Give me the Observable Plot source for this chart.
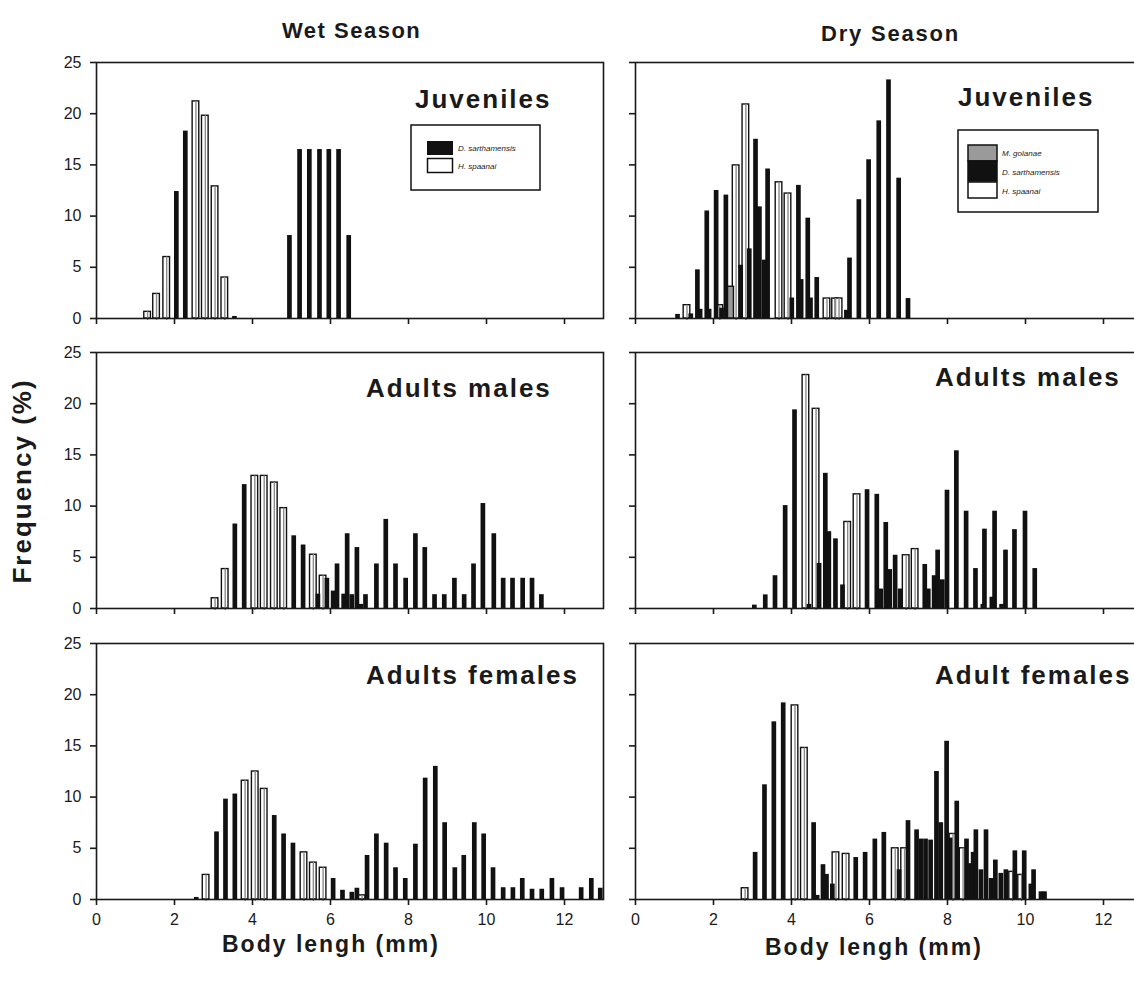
<!DOCTYPE html>
<html>
<head>
<meta charset="utf-8">
<script src="https://cdn.jsdelivr.net/npm/d3@7"></script>
<script src="https://cdn.jsdelivr.net/npm/@observablehq/plot@0.6"></script>
<style>
  html, body { margin: 0; padding: 0; background: #fff; overflow: hidden; }
  #root { position: relative; width: 1134px; height: 986px; overflow: hidden; }
  .panel { position: absolute; }
  .panel [aria-label="x-axis tick"], .panel [aria-label="y-axis tick"] { stroke-width: 1.6px; }
  #overlay { position: absolute; left: 0; top: 0; pointer-events: none; }
  #overlay text { font-family: "Liberation Sans", Arial, sans-serif; fill: #1a1a1a; }
</style>
</head>
<body>
<div id="root"></div>
<script>
// ---------------- data (body length mm, frequency %) ----------------
const xTicks = [0, 2, 4, 6, 8, 10, 12];
const yTicks = [0, 5, 10, 15, 20, 25];
const seasons = ["Wet Season", "Dry Season"];
const wetStages = ["Juveniles", "Adults males", "Adults females"];
const dryStages = ["Juveniles", "Adults males", "Adult females"];
const wetLegend = ["D. sarthamensis", "H. spaanai"];
const dryLegend = ["M. golanae", "D. sarthamensis", "H. spaanai"];

// Wet season – juveniles
const wetJuvHollow = [[1.31,0.65],[1.54,2.4],[1.8,6.0],[2.55,21.2],[2.79,19.8],[3.04,12.9],[3.29,4.0]];
const wetJuvBlack = [[2.06,12.4],[2.29,18.3],[3.55,0.2],[4.96,8.1],[5.22,16.5],[5.47,16.5],[5.73,16.5],[5.97,16.5],[6.22,16.5],[6.48,8.1]];
// Wet season – adult males
const wetMaleHollow = [[3.04,1.0],[3.3,3.85],[4.06,12.95],[4.3,12.95],[4.56,12.3],[4.8,9.8],[5.56,5.25],[5.81,3.2]];
const wetMaleBlack = [[3.56,8.25],[3.8,12.1],[5.07,7.1],[5.31,6.2],[5.69,1.4],[5.92,2.95],[6.08,1.7],[6.18,4.35],[6.35,1.4],[6.44,7.3],[6.56,1.35],[6.69,5.95],[6.79,0.4],[6.91,1.35],[7.19,4.35],[7.43,8.7],[7.68,4.35],[7.94,2.95],[8.19,7.3],[8.43,5.95],[8.68,1.35],[8.93,1.35],[9.19,2.95],[9.44,1.35],[9.68,4.35],[9.92,10.25],[10.2,7.3],[10.44,2.95],[10.68,2.95],[10.94,2.95],[11.18,2.95],[11.42,1.35]];
// Wet season – adult females
const wetFemHollow = [[2.81,2.4],[3.81,11.6],[4.07,12.5],[4.3,10.8],[5.32,4.6],[5.56,3.6],[5.81,3.1],[6.81,0.4]];
const wetFemBlack = [[2.57,0.2],[3.09,6.6],[3.32,9.8],[3.56,10.3],[4.57,8.2],[4.81,6.4],[5.05,5.5],[6.08,2.05],[6.32,0.9],[6.56,0.7],[6.69,1.1],[6.95,4.3],[7.19,6.4],[7.44,5.5],[7.68,3.1],[7.93,2.05],[8.19,5.4],[8.44,11.85],[8.7,13.0],[8.94,7.5],[9.2,3.1],[9.43,4.3],[9.7,7.5],[9.94,6.4],[10.18,3.1],[10.44,1.15],[10.69,1.15],[10.93,2.05],[11.18,1.0],[11.43,1.0],[11.69,2.05],[11.95,1.15],[12.44,1.15],[12.7,2.05],[12.93,1.1]];

// Dry season – juveniles
const dryJuvHollow = [[1.32,1.3],[2.16,1.3],[2.58,14.95],[2.83,20.9],[3.68,13.3],[3.91,12.2],[4.91,1.95],[5.13,1.95],[5.22,1.95]];
const dryJuvGrey = [[2.44,3.1]];
const dryJuvBlack = [[1.09,0.4],[1.43,0.45],[1.6,4.75],[1.67,0.9],[1.84,10.5],[1.9,0.9],[2.08,12.5],[2.22,1.0],[2.33,12.05],[2.71,5.2],[2.93,6.8],[3.09,17.5],[3.19,10.9],[3.31,5.7],[3.4,14.6],[4.02,2.0],[4.19,13.0],[4.26,3.8],[4.43,9.8],[4.5,2.0],[4.66,4.0],[5.42,0.8],[5.5,5.9],[5.74,11.6],[5.99,15.5],[6.25,19.3],[6.5,23.3],[6.76,13.7],[7.0,1.95]];
// Dry season – adult males
const dryMaleHollow = [[4.37,22.8],[4.63,19.5],[5.44,8.45],[5.68,11.15],[6.94,5.2],[7.17,5.8]];
const dryMaleBlack = [[3.06,0.33],[3.34,1.33],[3.59,3.2],[3.85,10.05],[4.09,19.4],[4.46,0.4],[4.72,4.4],[4.88,13.2],[4.97,7.5],[5.14,6.8],[5.32,2.3],[5.95,11.6],[6.2,11.15],[6.3,1.9],[6.43,8.4],[6.53,3.8],[6.67,5.2],[6.8,1.9],[7.43,4.3],[7.52,1.9],[7.67,3.2],[7.76,5.7],[7.88,2.8],[8.0,11.55],[8.24,15.4],[8.49,9.5],[8.73,3.9],[8.92,0.4],[8.96,7.75],[9.15,1.1],[9.22,9.5],[9.4,0.4],[9.5,5.7],[9.73,7.7],[10.0,9.5],[10.25,3.9]];
// Dry season – adult females
const dryFemHollow = [[2.81,1.1],[4.09,18.95],[4.33,14.8],[5.14,4.6],[5.4,4.45],[6.66,5.0],[6.9,5.0],[8.14,6.4],[8.4,5.0],[9.67,2.7],[9.9,2.4]];
const dryFemBlack = [[3.08,4.6],[3.32,11.2],[3.56,17.35],[3.8,19.2],[4.58,7.5],[4.67,0.4],[4.82,3.4],[4.91,2.45],[5.06,1.5],[5.66,4.1],[5.9,4.6],[6.15,5.9],[6.38,6.55],[6.77,2.9],[7.0,7.7],[7.22,6.8],[7.33,5.9],[7.45,5.9],[7.58,5.8],[7.73,12.5],[7.84,7.5],[7.99,15.45],[8.08,6.0],[8.25,9.6],[8.5,5.9],[8.6,3.5],[8.67,4.6],[8.74,6.8],[8.87,2.9],[9.0,6.8],[9.13,2.05],[9.24,3.85],[9.38,2.55],[9.51,2.9],[9.74,4.75],[9.98,4.75],[10.15,1.5],[10.22,2.9],[10.41,0.75],[10.5,0.75]];

// ---------------- drawing ----------------
const root = document.getElementById("root");
const FONT = '"Liberation Sans", Arial, sans-serif';
const HALF_BLACK = 0.06, HALF_HOLLOW = 0.085;

function panel({left, top, ml, mt, mb, hollow, grey, black, yLabels, xLabels}) {
  const inner = 256, innerW = 507, mr = 10;
  const chart = Plot.plot({
    width: ml + innerW + mr,
    height: mt + inner + mb,
    marginLeft: ml, marginRight: mr, marginTop: mt, marginBottom: mb,
    style: {fontFamily: FONT, fontSize: "16px", color: "#1a1a1a", background: "transparent", overflow: "visible"},
    x: {domain: [0, 13], ticks: xTicks, tickSize: 6, tickPadding: 8, label: null,
        tickFormat: xLabels ? (d => String(d)) : (() => "")},
    y: {domain: [0, 25], ticks: yTicks, tickSize: 6, tickPadding: 9, label: null,
        tickFormat: yLabels ? (d => String(d)) : (() => "")},
    marks: [
      Plot.rect(hollow, {x1: d => d[0] - HALF_HOLLOW, x2: d => d[0] + HALF_HOLLOW, y1: () => 0, y2: d => d[1],
        fill: "white", stroke: "#111", strokeWidth: 1.4}),
      Plot.ruleX(hollow, {x: d => d[0], y1: () => 0, y2: d => d[1], stroke: "#8c8c8c", strokeWidth: 1.4, insetTop: 2}),
      Plot.rect(grey, {x1: d => d[0] - HALF_HOLLOW, x2: d => d[0] + HALF_HOLLOW, y1: () => 0, y2: d => d[1],
        fill: "#9a9a9a", stroke: "#111", strokeWidth: 1.4}),
      Plot.rect(black, {x1: d => d[0] - HALF_BLACK, x2: d => d[0] + HALF_BLACK, y1: () => 0, y2: d => d[1],
        fill: "#111"}),
      Plot.frame({stroke: "#1a1a1a", strokeWidth: 1.6})
    ]
  });
  chart.classList.add("panel");
  chart.style.left = left + "px";
  chart.style.top = top + "px";
  root.appendChild(chart);
}

const wetLeft = 0, wetML = 96, dryLeft = 585, dryML = 50;
const rowTops = [40, 330, 621];
const rowMB = [14, 14, 36];

panel({left: wetLeft, top: rowTops[0], ml: wetML, mt: 22, mb: rowMB[0], hollow: wetJuvHollow, grey: [], black: wetJuvBlack, yLabels: true, xLabels: false});
panel({left: wetLeft, top: rowTops[1], ml: wetML, mt: 22, mb: rowMB[1], hollow: wetMaleHollow, grey: [], black: wetMaleBlack, yLabels: true, xLabels: false});
panel({left: wetLeft, top: rowTops[2], ml: wetML, mt: 22, mb: rowMB[2], hollow: wetFemHollow, grey: [], black: wetFemBlack, yLabels: true, xLabels: true});
panel({left: dryLeft, top: rowTops[0], ml: dryML, mt: 22, mb: rowMB[0], hollow: dryJuvHollow, grey: dryJuvGrey, black: dryJuvBlack, yLabels: false, xLabels: false});
panel({left: dryLeft, top: rowTops[1], ml: dryML, mt: 22, mb: rowMB[1], hollow: dryMaleHollow, grey: [], black: dryMaleBlack, yLabels: false, xLabels: false});
panel({left: dryLeft, top: rowTops[2], ml: dryML, mt: 22, mb: rowMB[2], hollow: dryFemHollow, grey: [], black: dryFemBlack, yLabels: false, xLabels: true});

// ---------------- text overlay & legends ----------------
const NS = "http://www.w3.org/2000/svg";
const ov = document.createElementNS(NS, "svg");
ov.setAttribute("id", "overlay");
ov.setAttribute("width", 1134);
ov.setAttribute("height", 986);
root.appendChild(ov);

function txt(s, x, y, {size = 16, weight = "normal", style = "normal", ls = 0, anchor = "start", transform = null} = {}) {
  const t = document.createElementNS(NS, "text");
  t.textContent = s;
  t.setAttribute("x", x); t.setAttribute("y", y);
  t.setAttribute("font-size", size);
  t.setAttribute("font-weight", weight);
  t.setAttribute("font-style", style);
  t.setAttribute("text-anchor", anchor);
  if (ls) t.setAttribute("letter-spacing", ls);
  if (transform) t.setAttribute("transform", transform);
  ov.appendChild(t);
  return t;
}
function box(x, y, w, h, fill, stroke = "#111", sw = 1.5) {
  const r = document.createElementNS(NS, "rect");
  r.setAttribute("x", x); r.setAttribute("y", y);
  r.setAttribute("width", w); r.setAttribute("height", h);
  r.setAttribute("fill", fill);
  if (stroke) { r.setAttribute("stroke", stroke); r.setAttribute("stroke-width", sw); }
  ov.appendChild(r);
}

// season titles
txt(seasons[0], 282, 38, {size: 22, weight: "bold", ls: 1.5});
txt(seasons[1], 821, 41, {size: 22, weight: "bold", ls: 1.8});

// panel labels
txt(wetStages[0], 415, 108, {size: 26, weight: "bold", ls: 2});
txt(wetStages[1], 366, 397, {size: 26, weight: "bold", ls: 2});
txt(wetStages[2], 366, 684, {size: 26, weight: "bold", ls: 2});
txt(dryStages[0], 958, 106, {size: 26, weight: "bold", ls: 2});
txt(dryStages[1], 935, 386, {size: 26, weight: "bold", ls: 2});
txt(dryStages[2], 935, 684, {size: 26, weight: "bold", ls: 2});

// axis titles
txt("Frequency (%)", 0, 0, {size: 26, weight: "bold", ls: 2, anchor: "middle", transform: "translate(31,481) rotate(-90)"});
txt("Body lengh (mm)", 222, 952, {size: 23, weight: "bold", ls: 2});
txt("Body lengh (mm)", 765, 955, {size: 23, weight: "bold", ls: 2});

// wet legend
box(411, 125, 129, 65, "white");
box(427, 141, 26, 14, "#111", null);
box(427.5, 158.5, 25, 14, "white");
txt(wetLegend[0], 458, 151, {size: 8, style: "italic"});
txt(wetLegend[1], 458, 169, {size: 8, style: "italic"});

// dry legend
box(958, 130, 140, 82, "white");
box(968, 145, 29, 16, "#9a9a9a");
box(968, 161, 29, 20, "#111", "#111");
box(968, 182, 29, 16, "white");
txt(dryLegend[0], 1002, 156, {size: 8, style: "italic"});
txt(dryLegend[1], 1002, 175, {size: 8, style: "italic"});
txt(dryLegend[2], 1002, 194, {size: 8, style: "italic"});
</script>
</body>
</html>
